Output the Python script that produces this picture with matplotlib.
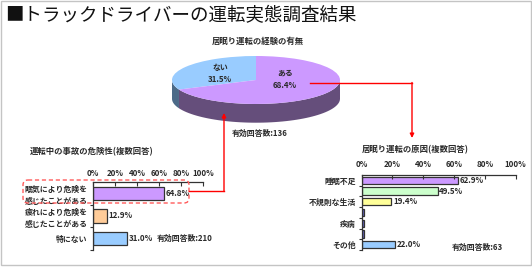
import matplotlib
matplotlib.use("Agg")
import matplotlib.pyplot as plt
import numpy as np
from matplotlib.patches import Polygon, FancyBboxPatch, Rectangle

plt.rcParams['font.family'] = ['Noto Sans CJK JP', 'DejaVu Sans']

# ---------------- data ----------------
main_title = "■トラックドライバーの運転実態調査結果"

pie_title = "居眠り運転の経験の有無"
pie_labels = ["ない", "ある"]
pie_values = [31.5, 68.4]
pie_n = "有効回答数:136"

danger_title = "運転中の事故の危険性(複数回答)"
danger_labels = ["眠気により危険を\n感じたことがある", "疲れにより危険を\n感じたことがある", "特にない"]
danger_values = [64.8, 12.9, 31.0]
danger_n = "有効回答数:210"

cause_title = "居眠り運転の原因(複数回答)"
cause_labels = ["睡眠不足", "", "不規則な生活", "", "疾病", "", "その他"]
cause_values = [62.9, 49.5, 19.4, 1.6, 1.6, 1.6, 22.0]
cause_value_shown = [True, True, True, False, False, False, True]
cause_n = "有効回答数:63"

x_ticks = [0, 20, 40, 60, 80, 100]

# ---------------- styles ----------------
pie_colors = ["#99ccff", "#cc99ff"]
pie_side_colors = ["#4c6a88", "#654e7b"]
danger_colors = ["#cc99ff", "#ffcc99", "#99ccff"]
cause_colors = ["#cc99ff", "#ccffcc", "#ffff99", "#6666cc", "#6666cc", "#6666cc", "#99ccff"]
text_color = "#2a2a2a"
edge_color = "#333333"
fs = 5.7
fw = 'bold'

W, H = 532, 267
fig = plt.figure(figsize=(W / 100, H / 100), dpi=100)
fig.patch.set_facecolor("white")


def add_px_axes(x0, y0, x1, y1, **kw):
    return fig.add_axes([x0 / W, 1 - y1 / H, (x1 - x0) / W, (y1 - y0) / H], **kw)


# ---------------- 3D-like pie ----------------
depth = 0.78
axp = add_px_axes(172, 56, 340, 122.7)
wedges, _ = axp.pie(pie_values, colors=pie_colors, startangle=90, counterclock=True,
                    radius=1, wedgeprops=dict(linewidth=0))
for w in wedges:
    w.set_zorder(3)
axp.set_aspect('auto')
axp.set_xlim(-1, 1)
axp.set_ylim(-1 - depth, 1)
axp.axis('off')
for w, sc in zip(wedges, pie_side_colors):
    t1, t2 = w.theta1, w.theta2
    for lo, hi in [(180, 360), (540, 720)]:
        a, b = max(t1, lo), min(t2, hi)
        if b > a:
            t = np.radians(np.linspace(a, b, 60))
            top = np.column_stack([np.cos(t), np.sin(t)])
            bot = np.column_stack([np.cos(t[::-1]), np.sin(t[::-1]) - depth])
            axp.add_patch(Polygon(np.vstack([top, bot]), closed=True, fc=sc, ec='none', zorder=1))
label_pos = [(-0.43, 0.27), (0.345, 0.02)]
for (lx, ly), lab, v in zip(label_pos, pie_labels, pie_values):
    axp.text(lx, ly, f"{lab}\n{v}%", ha='center', va='center', fontsize=fs, fontweight=fw,
             color=text_color, zorder=5, linespacing=1.5)

# ---------------- left bar chart ----------------
axl = add_px_axes(93, 182, 203, 250)
yl = np.arange(len(danger_values))
axl.barh(yl, danger_values, height=0.6, color=danger_colors, edgecolor=edge_color, linewidth=0.9)
axl.set_xlim(0, 100)
axl.set_ylim(len(danger_values) - 0.5, -0.5)
for i, v in enumerate(danger_values):
    axl.text(v + 1.5, i, f"{v}%", va='center', ha='left', fontsize=fs, fontweight=fw, color=text_color)

# ---------------- right bar chart ----------------
axr = add_px_axes(361.5, 175, 515.7, 250)
yr = np.arange(len(cause_values))
axr.barh(yr, cause_values, height=0.68, color=cause_colors, edgecolor=edge_color, linewidth=0.9)
axr.set_xlim(0, 100)
axr.set_ylim(len(cause_values) - 0.5, -0.5)
for i, (v, show) in enumerate(zip(cause_values, cause_value_shown)):
    if show:
        axr.text(v + 1.0, i, f"{v}%", va='center', ha='left', fontsize=fs, fontweight=fw, color=text_color)

for ax, labels, pad_top in [(axl, danger_labels, 3), (axr, cause_labels, 4)]:
    n = len(labels)
    for s in ['right', 'bottom']:
        ax.spines[s].set_visible(False)
    for s in ['top', 'left']:
        ax.spines[s].set_color(edge_color)
        ax.spines[s].set_linewidth(0.9)
    ax.xaxis.tick_top()
    ax.set_xticks(x_ticks)
    ax.set_xticklabels([f"{t}%" for t in x_ticks])
    ax.tick_params(axis='x', direction='in', length=3, width=0.8, pad=pad_top,
                   labelsize=fs, labelcolor=text_color, color=edge_color)
    ax.set_yticks(np.arange(n))
    ax.set_yticklabels(labels)
    ax.tick_params(axis='y', which='major', length=0, pad=4, labelsize=fs, labelcolor=text_color)
    ax.set_yticks(np.arange(n) + 0.5, minor=True)
    ax.tick_params(axis='y', which='minor', length=2, width=0.8, direction='out', color=edge_color)
    for t in ax.get_yticklabels() + ax.get_xticklabels():
        t.set_fontweight(fw)
    for t in ax.get_yticklabels():
        t.set_linespacing(1.4)

# ---------------- overlay (titles, arrows, frame) ----------------
ov = fig.add_axes([0, 0, 1, 1], zorder=10)
ov.set_xlim(0, W)
ov.set_ylim(H, 0)
ov.axis('off')
ov.patch.set_visible(False)

ov.add_patch(Rectangle((0.5, 0.5), W - 1.5, H - 2.5, fill=False, ec="#c4c4c4", lw=1))
ov.text(5, 16, main_title, fontsize=13.3, va='center', ha='left', color="#111111")
ov.text(258, 41, pie_title, fontsize=6, fontweight=fw, va='center', ha='center', color=text_color)
ov.text(232, 133, pie_n, fontsize=fs, fontweight=fw, va='center', ha='left', color=text_color)
ov.text(30, 152, danger_title, fontsize=6, fontweight=fw, va='center', ha='left', color=text_color)
ov.text(157, 238, danger_n, fontsize=fs, fontweight=fw, va='center', ha='left', color=text_color)
ov.text(415, 150, cause_title, fontsize=6, fontweight=fw, va='center', ha='center', color=text_color)
ov.text(452, 247, cause_n, fontsize=fs, fontweight=fw, va='center', ha='left', color=text_color)

red = "#ff0000"
ov.plot([310, 412], [83, 83], color=red, lw=1)
ov.annotate('', xy=(412, 138), xytext=(412, 82.5),
            arrowprops=dict(arrowstyle='-|>', color=red, lw=1, mutation_scale=6, shrinkA=0, shrinkB=0))
ov.plot([189, 224], [191, 191], color=red, lw=1)
ov.annotate('', xy=(224, 113), xytext=(224, 191.5),
            arrowprops=dict(arrowstyle='-|>', color=red, lw=1, mutation_scale=6, shrinkA=0, shrinkB=0))
ov.add_patch(FancyBboxPatch((23, 180), 166, 23, boxstyle="round,pad=0,rounding_size=5",
                            fill=False, ec="#ff5a5a", lw=1, ls=(0, (3, 2))))

fig.savefig("out.png", dpi=100)
